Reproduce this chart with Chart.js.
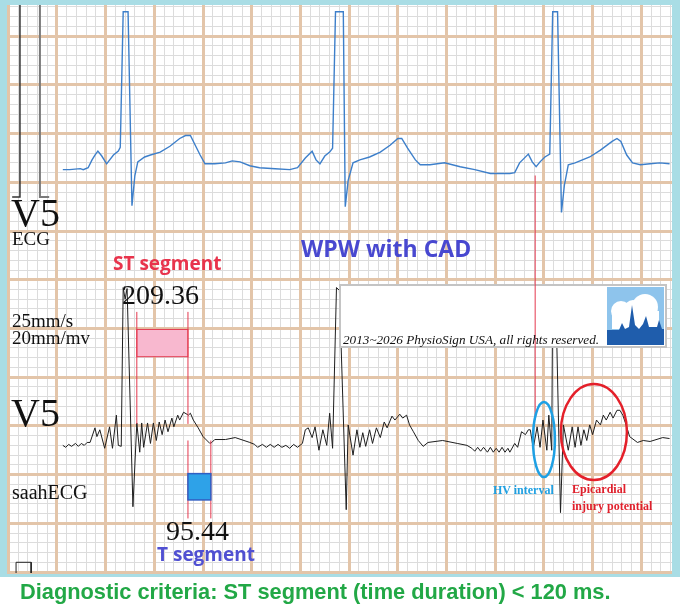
<!DOCTYPE html>
<html>
<head>
<meta charset="utf-8">
<script src="https://cdn.jsdelivr.net/npm/chart.js@4.4.1/dist/chart.umd.min.js"></script>
<style>
  html, body { margin: 0; padding: 0; background: #fff; }
  #wrap { position: relative; width: 680px; height: 613px; overflow: hidden; }
  #wrap canvas { position: absolute; left: 0; top: 0; }
  .lbl { position: absolute; white-space: nowrap; line-height: 1; }
  .serif { font-family: "Liberation Serif", "DejaVu Serif", serif; color: #111; }
  .sans { font-family: "Open Sans", "Liberation Sans", sans-serif; font-weight: 700; }
</style>
</head>
<body>
<div id="wrap">
  <canvas id="ecg" width="680" height="613"></canvas>

  <div class="lbl serif" style="left:11px;top:193px;font-size:40px">V5</div>
  <div class="lbl serif" style="left:12px;top:229px;font-size:19px">ECG</div>
  <div class="lbl sans" style="left:301px;top:237px;font-size:23px;color:#4848d0">WPW with CAD</div>
  <div class="lbl sans" style="left:113px;top:254px;font-size:19px;color:#e8344c">ST segment</div>
  <div class="lbl serif" style="left:122px;top:281px;font-size:28px">209.36</div>
  <div class="lbl serif" style="left:12px;top:311px;font-size:19px">25mm/s</div>
  <div class="lbl serif" style="left:12px;top:328px;font-size:19px">20mm/mv</div>
  <div class="lbl serif" style="left:343px;top:333px;font-size:13.2px;font-style:italic">2013~2026 PhysioSign USA, all rights reserved.</div>
  <div class="lbl serif" style="left:11px;top:393px;font-size:40px">V5</div>
  <div class="lbl serif" style="left:12px;top:482px;font-size:20px">saahECG</div>
  <div class="lbl serif" style="left:493px;top:484px;font-size:12px;font-weight:700;color:#1fa0e2">HV interval</div>
  <div class="lbl serif" style="left:572px;top:483px;font-size:12px;font-weight:700;color:#e0202c">Epicardial</div>
  <div class="lbl serif" style="left:572px;top:500px;font-size:12px;font-weight:700;color:#e0202c">injury potential</div>
  <div class="lbl serif" style="left:166px;top:517px;font-size:28px">95.44</div>
  <div class="lbl sans" style="left:157px;top:545px;font-size:19px;color:#5050d2">T segment</div>
  <div class="lbl" style="left:20px;top:581px;font-size:21.8px;font-weight:700;color:#22a846;font-family:'Liberation Sans',Arial,sans-serif">Diagnostic criteria: ST segment (time duration) &lt; 120 ms.</div>
</div>

<script>
// units: 1 small box = 1 mm (0.04 s across, 0.05 mV up at 20mm/mV)
const X_MIN = -0.13, X_MAX = 68.15;
const Y_MIN = -0.1, Y_MAX = 58.2;

// surface ECG, lead V5 (x mm, y mm)
const ecgTrace = [
    [5.6,41.3],[6.3,41.3],[7.4,41.4],[7.7,41.3],[8.2,41.5],[8.6,42.3],[8.9,42.8],[9.2,43.2],[9.6,42.7],
    [10.1,41.9],[10.8,42.8],[11.3,43.2],[11.5,43.6],[11.8,57.5],[12.3,57.5],[12.7,37.6],[13.0,40.7],
    [13.3,42.1],[14.0,42.6],[14.6,42.8],[15.6,43.1],[16.6,43.7],[17.6,44.5],[18.2,44.8],[18.7,44.8],
    [19.2,43.8],[19.7,42.8],[20.2,41.9],[21.2,41.9],[22.3,42.0],[23.0,42.2],[23.8,42.1],[24.8,41.7],
    [25.8,41.5],[27.4,41.4],[28.9,41.3],[29.7,41.5],[30.5,42.5],[31.2,43.2],[31.6,42.3],[32.0,41.9],
    [32.5,42.7],[33.0,43.1],[33.3,43.5],[33.6,57.5],[34.4,57.5],[34.6,37.5],[34.9,40.2],[35.4,42.0],
    [36.1,42.3],[37.1,42.6],[38.2,43.1],[39.2,43.8],[40.0,44.5],[40.4,44.5],[41.0,43.5],[41.8,42.3],
    [42.3,41.8],[43.3,41.8],[44.8,42.0],[46.4,41.6],[47.9,41.3],[49.5,40.9],[51.5,40.9],[52.0,41.0],
    [52.5,42.0],[53.4,42.9],[53.8,42.1],[54.2,41.6],[54.6,42.1],[55.1,42.6],[55.6,42.9],[55.9,57.5],
    [56.4,57.5],[56.8,36.9],[57.1,39.7],[57.5,41.8],[58.2,42.0],[59.7,42.6],[60.8,43.3],[62.0,44.2],
    [62.5,44.5],[62.9,44.2],[63.5,42.8],[64.1,42.0],[64.9,41.8],[65.9,41.9],[66.9,42.0],[67.9,41.9]
];

// signal-averaged high-resolution ECG, lead V5 (x mm, y mm)
const saahTrace = [
    [5.6,13.0],[5.9,12.8],[6.2,13.1],[6.5,12.9],[6.9,13.2],[7.2,12.9],[7.5,13.2],[7.8,13.0],[8.1,13.3],
    [8.4,13.3],[8.9,14.8],[9.1,13.9],[9.4,14.6],[9.9,12.7],[10.4,14.9],[10.7,12.7],[11.1,16.1],[11.3,13.0],
    [11.6,12.9],[11.8,29.2],[12.0,28.0],[12.2,29.1],[12.8,6.7],[13.2,15.3],
    [13.5,12.3],[13.7,15.3],[13.9,12.8],[14.3,15.3],[14.6,13.2],[14.9,15.3],[15.2,13.5],[15.5,15.4],
    [15.8,14.1],[16.1,15.6],[16.4,14.4],[16.8,15.8],[17.0,14.9],[17.4,16.1],[17.6,15.6],[18.0,16.4],
    [18.5,16.1],[18.7,16.3],[19.0,15.6],[19.5,14.8],[20.0,13.9],[20.7,13.2],[20.9,13.3],[21.2,13.6],
    [22.3,13.6],[23.3,13.8],[24.8,13.3],[25.3,13.1],[25.6,12.8],[26.1,13.1],[26.5,12.8],[26.9,13.1],
    [27.3,12.8],[27.7,13.1],[28.1,12.8],[28.5,13.0],[28.9,12.7],[29.3,13.1],[29.7,12.8],[30.2,13.2],
    [30.5,14.6],[30.8,14.8],[31.2,13.8],[31.5,14.9],[31.9,12.5],[32.3,14.6],[32.7,13.0],[33.0,16.3],
    [33.3,12.7],[33.7,29.2],[34.0,28.9],[34.7,6.4],[34.9,15.1],
    [35.4,12.0],[35.8,14.6],[36.1,12.8],[36.4,14.3],[36.7,12.9],[37.1,14.6],[37.4,13.2],[37.8,14.8],
    [38.2,13.8],[38.6,15.4],[38.9,14.8],[39.4,16.0],[39.7,15.6],[40.2,16.2],[40.5,15.8],[40.9,16.1],
    [41.2,15.1],[41.6,14.4],[42.1,13.5],[42.6,12.9],[43.1,13.3],[44.6,13.5],[46.1,13.2],[47.1,13.0],
    [47.6,12.7],[47.9,12.4],[48.2,12.8],[48.5,12.4],[48.8,12.8],[49.2,12.3],[49.5,12.8],[49.8,12.3],
    [50.1,12.7],[50.4,12.3],[50.7,12.8],[51.0,12.3],[51.3,12.7],[51.5,12.3],[52.0,13.2],[52.3,12.8],
    [52.7,14.4],[53.1,14.1],[53.4,14.6],[53.6,14.6],[53.9,12.7],[54.3,14.9],[54.6,12.8],[54.9,15.6],
    [55.3,12.5],[55.5,16.1],[55.8,12.5],[55.9,29.1],[56.2,29.1],[56.7,6.1],[57.0,15.1],
    [57.5,12.5],[57.9,14.9],[58.2,12.8],[58.5,14.9],[58.8,13.0],[59.1,14.6],[59.4,13.5],[59.7,15.1],
    [60.0,14.1],[60.4,15.6],[60.8,15.1],[61.1,16.1],[61.4,15.6],[61.8,16.4],[62.1,15.8],[62.5,16.6],
    [62.8,16.6],[63.1,16.1],[63.5,14.9],[63.8,13.9],[64.6,13.3],[65.2,13.5],[65.9,13.4],[67.2,13.8],
    [67.9,13.7]
];

// calibration pulses
const calUpLeft = [[0.4,38.5],[1.2,38.5],[1.2,60]];
const calUpRight = [[3.25,60],[3.25,38.5],[4.2,38.5]];
const calLow = [[0.8,-1],[0.8,1.0],[2.35,1.0],[2.35,-1]];

// measured intervals (mm)
const stSegment = [13.2, 18.45];
const tSegment = [18.45, 20.8];
const stBand = [22.1, 24.9];
const tBand = [7.4, 10.1];
const stMarkerSpan = [15.2, 26.7];
const tMarkerSpan = [5.5, 13.5];
const hvMarkerX = 54.1;
const hvMarkerSpan = [15.6, 40.7];
const hvRegion = [53.87, 56.13, 9.75, 17.44];
const injuryRegion = [56.74, 63.52, 9.44, 19.29];

const toXY = arr => arr.map(p => ({x: p[0], y: p[1]}));

const paperPlugin = {
    id: 'paper',
    beforeDraw(chart) {
        const {ctx, chartArea: a} = chart;
        ctx.save();
        ctx.fillStyle = '#a9dde5';
        ctx.fillRect(0, 0, chart.width, 577);
        ctx.fillStyle = '#ffffff';
        ctx.fillRect(a.left, a.top, a.right - a.left, a.bottom - a.top);
        ctx.restore();
    }
};

function drawLogo(ctx, x, y, w, h) {
    ctx.fillStyle = '#8ec4ec';
    ctx.fillRect(x, y, w, h);
    ctx.fillStyle = '#ffffff';
    ctx.beginPath(); ctx.arc(x + 14, y + 24, 10, 0, Math.PI * 2); ctx.fill();
    ctx.beginPath(); ctx.arc(x + 38, y + 20, 13, 0, Math.PI * 2); ctx.fill();
    ctx.beginPath(); ctx.arc(x + 26, y + 22, 9, 0, Math.PI * 2); ctx.fill();
    ctx.fillRect(x + 5, y + 24, w - 10, 18);
    ctx.fillStyle = '#1f5dac';
    ctx.beginPath();
    ctx.moveTo(x, y + 43);
    ctx.lineTo(x + 12, y + 43);
    ctx.lineTo(x + 15, y + 36);
    ctx.lineTo(x + 18, y + 42);
    ctx.lineTo(x + 22, y + 40);
    ctx.lineTo(x + 25, y + 18);
    ctx.lineTo(x + 28, y + 38);
    ctx.lineTo(x + 32, y + 42);
    ctx.lineTo(x + 36, y + 37);
    ctx.lineTo(x + 39, y + 29);
    ctx.lineTo(x + 42, y + 40);
    ctx.lineTo(x + 50, y + 40);
    ctx.lineTo(x + 52, y + 33);
    ctx.lineTo(x + 55, y + 42);
    ctx.lineTo(x + w, y + 42);
    ctx.lineTo(x + w, y + h);
    ctx.lineTo(x, y + h);
    ctx.closePath();
    ctx.fill();
}

const overlayPlugin = {
    id: 'overlays',
    afterDatasetsDraw(chart) {
        const ctx = chart.ctx;
        const px = v => chart.scales.x.getPixelForValue(v);
        const py = v => chart.scales.y.getPixelForValue(v);
        ctx.save();

        // copyright box over the high-resolution trace
        ctx.fillStyle = '#ffffff';
        ctx.fillRect(340, 285, 326, 62);
        ctx.strokeStyle = '#c4c4c4';
        ctx.lineWidth = 2;
        ctx.strokeRect(340, 285, 326, 62);
        drawLogo(ctx, 607, 287, 57, 58);

        // ST segment bracket
        ctx.fillStyle = '#f8b8cf';
        ctx.fillRect(px(stSegment[0]), py(stBand[1]), px(stSegment[1]) - px(stSegment[0]), py(stBand[0]) - py(stBand[1]));
        ctx.strokeStyle = '#e4384e';
        ctx.lineWidth = 1;
        ctx.strokeRect(px(stSegment[0]), py(stBand[1]), px(stSegment[1]) - px(stSegment[0]), py(stBand[0]) - py(stBand[1]));
        ctx.beginPath();
        stSegment.forEach(v => { ctx.moveTo(px(v), py(stMarkerSpan[1])); ctx.lineTo(px(v), py(stMarkerSpan[0])); });
        tSegment.forEach(v => { ctx.moveTo(px(v), py(tMarkerSpan[1])); ctx.lineTo(px(v), py(tMarkerSpan[0])); });
        ctx.moveTo(px(hvMarkerX), py(hvMarkerSpan[1]));
        ctx.lineTo(px(hvMarkerX), py(hvMarkerSpan[0]));
        ctx.stroke();

        // T segment block
        ctx.fillStyle = '#2ea2e8';
        ctx.fillRect(px(tSegment[0]), py(tBand[1]), px(tSegment[1]) - px(tSegment[0]), py(tBand[0]) - py(tBand[1]));
        ctx.strokeStyle = '#2f5fc4';
        ctx.lineWidth = 1.5;
        ctx.strokeRect(px(tSegment[0]), py(tBand[1]), px(tSegment[1]) - px(tSegment[0]), py(tBand[0]) - py(tBand[1]));

        // ellipses
        const ellipse = (r, color) => {
            const x0 = px(r[0]), x1 = px(r[1]), y0 = py(r[3]), y1 = py(r[2]);
            ctx.beginPath();
            ctx.ellipse((x0 + x1) / 2, (y0 + y1) / 2, (x1 - x0) / 2, (y1 - y0) / 2, 0, 0, Math.PI * 2);
            ctx.strokeStyle = color;
            ctx.lineWidth = 2.5;
            ctx.stroke();
        };
        ellipse(hvRegion, '#1ea0e4');
        ellipse(injuryRegion, '#e4202a');
        ctx.restore();
    }
};

function gridAxis(axis, min, max, step, color, width, z) {
    return {
        type: 'linear',
        axis: axis,
        position: axis === 'x' ? 'bottom' : 'left',
        min: min,
        max: max,
        ticks: { display: false, stepSize: step, includeBounds: false },
        grid: { z: z, drawTicks: false, color: color, lineWidth: width },
        border: { display: false }
    };
}

new Chart(document.getElementById('ecg').getContext('2d'), {
    type: 'line',
    data: {
        datasets: [
            { label: 'V5 ECG', data: toXY(ecgTrace), borderColor: '#3d7fca', borderWidth: 1.4 },
            { label: 'V5 saahECG', data: toXY(saahTrace), borderColor: '#1e1e1e', borderWidth: 1 },
            { label: 'cal1', data: toXY(calUpLeft), borderColor: '#333333', borderWidth: 1.5 },
            { label: 'cal2', data: toXY(calUpRight), borderColor: '#7a7a7a', borderWidth: 2 },
            { label: 'cal3', data: toXY(calLow), borderColor: '#222222', borderWidth: 1 }
        ]
    },
    options: {
        responsive: false,
        animation: false,
        devicePixelRatio: 1,
        layout: { padding: { left: 7, top: 5, right: 8, bottom: 40 } },
        elements: { point: { radius: 0 }, line: { tension: 0 } },
        plugins: { legend: { display: false }, tooltip: { enabled: false } },
        scales: {
            x: gridAxis('x', X_MIN, X_MAX, 1, '#dcdcdc', 1, -3),
            y: gridAxis('y', Y_MIN, Y_MAX, 1, '#dcdcdc', 1, -3),
            xMajor: gridAxis('x', X_MIN, X_MAX, 5, '#e3c5a9', 3, -2),
            yMajor: gridAxis('y', Y_MIN, Y_MAX, 5, '#e3c5a9', 3, -2)
        }
    },
    plugins: [paperPlugin, overlayPlugin]
});
</script>
</body>
</html>
